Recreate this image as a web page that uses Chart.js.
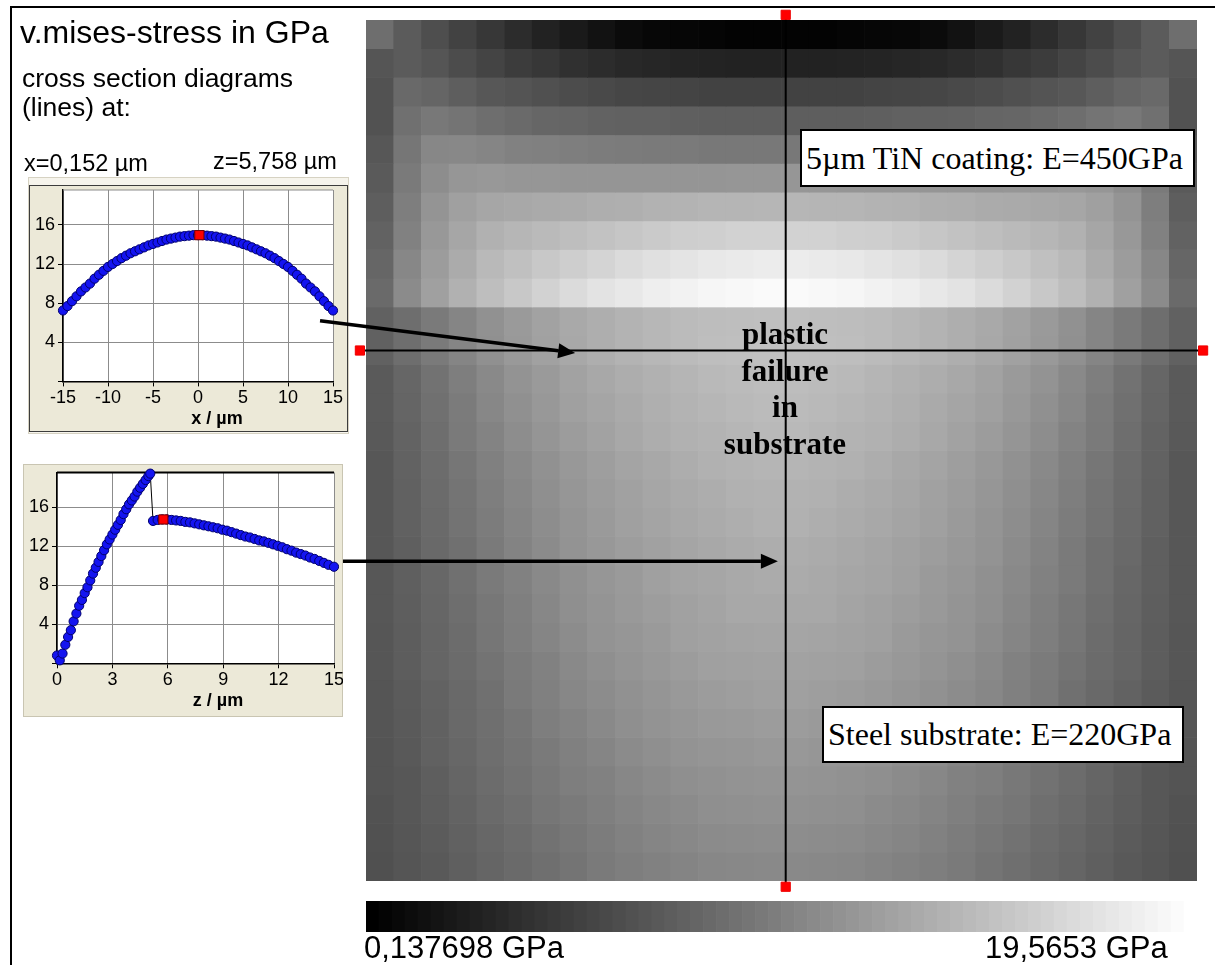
<!DOCTYPE html>
<html lang="en">
<head>
<meta charset="utf-8">
<title>v.mises-stress in GPa</title>
<script src="https://cdn.jsdelivr.net/npm/chart.js@4.4.1/dist/chart.umd.min.js"></script>
<style>
  html, body { margin: 0; padding: 0; background: #fff; }
  body { position: relative; width: 1215px; height: 965px; overflow: hidden;
         font-family: "Liberation Sans", Arial, sans-serif; color: #000; }
  .txt { position: absolute; white-space: nowrap; line-height: 1; z-index: 5; }
  .bold { font-weight: bold; }
  #pageFrame { position: absolute; left: 10px; top: 6px; right: 0; bottom: 0;
               border-left: 2px solid #000; border-top: 2px solid #000; }
  .panel { position: absolute; box-sizing: border-box; background: #ece9d8; z-index: 1; }
  canvas { position: absolute; }
  .note { position: absolute; box-sizing: border-box; background: #fff; border: 2px solid #000;
          font-family: "Liberation Serif", "Times New Roman", serif; font-size: 32px;
          white-space: nowrap; padding-left: 4px; z-index: 5; }
  #failure { position: absolute; left: 685px; top: 316px; width: 200px; text-align: center;
             font-family: "Liberation Serif", "Times New Roman", serif; font-weight: bold;
             font-size: 31px; line-height: 36.5px; z-index: 5; }
</style>
</head>
<body>
<div id="pageFrame"></div>

<div class="txt" style="left:20px;top:16px;font-size:32px">v.mises-stress in GPa</div>
<div class="txt" style="left:22px;top:65px;font-size:26.5px">cross section diagrams</div>
<div class="txt" style="left:22px;top:94px;font-size:26.5px">(lines) at:</div>
<div class="txt" style="left:24px;top:152px;font-size:23.5px">x=0,152 µm</div>
<div class="txt" style="left:213px;top:150px;font-size:23.5px">z=5,758 µm</div>

<!-- frames of the two cross section diagrams -->
<div class="panel" style="left:28px;top:177px;width:321px;height:257px;background:#f6f4ec;border:1px solid #d6d2c2"></div>
<div class="panel" style="left:29px;top:185px;width:319px;height:247px;border:1px solid #3c3c3c"></div>
<div class="panel" style="left:23px;top:464px;width:320px;height:253px;border:1px solid #c9c5b2"></div>

<canvas id="xSection" width="319" height="254" style="left:29px;top:177px;z-index:2"></canvas>
<canvas id="zSection" width="320" height="253" style="left:23px;top:464px;z-index:2"></canvas>
<div class="txt bold" style="left:167px;width:100px;text-align:center;top:409px;font-size:18px">x / µm</div>
<div class="txt bold" style="left:168px;width:100px;text-align:center;top:691px;font-size:18px">z / µm</div>

<canvas id="stressMap" width="1215" height="965" style="left:0;top:0;z-index:3"></canvas>
<canvas id="colorBar" width="831" height="31" style="left:366px;top:901px;z-index:2"></canvas>

<div class="note" style="left:800px;top:129px;width:395px;height:58px;line-height:54px">5µm TiN coating: E=450GPa</div>
<div class="note" style="left:822px;top:706px;width:362px;height:57px;line-height:53px">Steel substrate: E=220GPa</div>
<div id="failure">plastic<br>failure<br>in<br>substrate</div>

<div class="txt" style="left:364px;top:932px;font-size:31px">0,137698 GPa</div>
<div class="txt" style="left:985px;top:932px;font-size:31px">19,5653 GPa</div>

<script>
// colour scale range (GPa)
const vMin = 0.137698;
const vMax = 19.5653;

// positions of the two cross sections (µm)
const sectionX = 0.152;
const sectionZ = 5.758;

// stress along z at x = 0,152 µm
const zSectionZ = [0, 0.15, 0.3, 0.45, 0.6, 0.75, 0.9, 1.05, 1.2, 1.35, 1.5, 1.65, 1.8, 1.95, 2.1, 2.25,
  2.4, 2.55, 2.7, 2.85, 3.0, 3.15, 3.3, 3.45, 3.6, 3.75, 3.9, 4.05, 4.2, 4.35, 4.5, 4.65, 4.8, 4.95, 5.05,
  5.2, 5.45, 5.7, 5.95, 6.2, 6.45, 6.7, 6.95, 7.2, 7.45, 7.7, 7.95, 8.2, 8.45, 8.7, 8.95, 9.2, 9.45,
  9.7, 9.95, 10.2, 10.45, 10.7, 10.95, 11.2, 11.45, 11.7, 11.95, 12.2, 12.45, 12.7, 12.95, 13.2, 13.45,
  13.7, 13.95, 14.2, 14.45, 14.7, 15.0];
const zSectionStress = [0.8, 0.3, 1.0, 1.9, 2.7, 3.4, 4.3, 5.1, 5.9, 6.5, 7.2, 7.8, 8.5, 9.2, 9.8, 10.4,
  11.0, 11.6, 12.2, 12.7, 13.2, 13.7, 14.2, 14.7, 15.3, 15.8, 16.3, 16.7, 17.1, 17.6, 18.0, 18.4, 18.8, 19.2, 19.45,
  14.6, 14.7, 14.75, 14.75, 14.7, 14.65, 14.6, 14.5, 14.45, 14.35, 14.25, 14.15, 14.05, 13.95, 13.85, 13.7, 13.6, 13.45,
  13.3, 13.15, 13.0, 12.9, 12.75, 12.6, 12.5, 12.35, 12.2, 12.05, 11.9, 11.7, 11.55, 11.35, 11.2, 11.05,
  10.85, 10.7, 10.5, 10.3, 10.1, 9.9];

// stress along x at z = 5,758 µm
const xSectionX = [-15, -14.5, -14, -13.5, -13, -12.5, -12, -11.5, -11, -10.5, -10, -9.5, -9, -8.5, -8,
  -7.5, -7, -6.5, -6, -5.5, -5, -4.5, -4, -3.5, -3, -2.5, -2, -1.5, -1, -0.5, 0, 0.5, 1, 1.5, 2, 2.5,
  3, 3.5, 4, 4.5, 5, 5.5, 6, 6.5, 7, 7.5, 8, 8.5, 9, 9.5, 10, 10.5, 11, 11.5, 12, 12.5, 13, 13.5, 14, 14.5, 15];
const xSectionStress = [7.25, 7.7, 8.2, 8.7, 9.2, 9.6, 10.0, 10.5, 10.9, 11.3, 11.7, 12.0, 12.3, 12.6, 12.85,
  13.1, 13.3, 13.5, 13.7, 13.9, 14.05, 14.2, 14.35, 14.5, 14.6, 14.7, 14.8, 14.85, 14.9, 14.95, 14.95, 14.95,
  14.9, 14.85, 14.8, 14.7, 14.6, 14.5, 14.35, 14.2, 14.05, 13.9, 13.7, 13.5, 13.3, 13.1, 12.85, 12.6, 12.3,
  12.0, 11.7, 11.3, 10.9, 10.5, 10.0, 9.6, 9.2, 8.7, 8.2, 7.7, 7.25];

// stress field: cell centres along x, cell tops along z (µm), one row per depth
const cellX = [-14.5, -13.5, -12.5, -11.5, -10.5, -9.5, -8.5, -7.5, -6.5, -5.5, -4.5, -3.5, -2.5, -1.5, -0.5,
  0.5, 1.5, 2.5, 3.5, 4.5, 5.5, 6.5, 7.5, 8.5, 9.5, 10.5, 11.5, 12.5, 13.5, 14.5];
const cellZ = [0, 0.5, 1, 1.5, 2, 2.5, 3, 3.5, 4, 4.5, 5, 5.5, 6, 6.5, 7, 7.5, 8, 8.5, 9, 9.5,
  10, 10.5, 11, 11.5, 12, 12.5, 13, 13.5, 14, 14.5];
const cellDepth = 0.5;
const stressGrid = [
  [8.5,7.1,6.1,5.2,4.3,3.5,2.7,2.1,1.5,1.0,0.7,0.6,0.5,0.4,0.4, 0.4,0.4,0.5,0.6,0.7,1.0,1.5,2.1,2.7,3.5,4.3,5.2,6.1,7.1,8.5],
  [6.6,7.1,6.6,5.9,5.3,4.7,4.3,3.8,3.5,3.2,3.0,2.9,2.8,2.7,2.7, 2.7,2.7,2.8,2.9,3.0,3.2,3.5,3.8,4.3,4.7,5.3,5.9,6.6,7.1,6.6],
  [6.4,8.1,7.8,7.3,6.8,6.5,6.2,5.9,5.7,5.5,5.4,5.3,5.2,5.2,5.2, 5.2,5.2,5.2,5.3,5.4,5.5,5.7,5.9,6.2,6.5,6.8,7.3,7.8,8.1,6.4],
  [6.4,8.7,9.3,9.0,8.5,8.2,7.9,7.8,7.6,7.5,7.5,7.4,7.3,7.3,7.3, 7.3,7.3,7.3,7.4,7.5,7.5,7.6,7.8,7.9,8.2,8.5,9.0,9.3,8.7,6.4],
  [6.8,9.1,10.4,10.5,10.3,10.0,9.9,9.7,9.6,9.5,9.4,9.4,9.3,9.3,9.3, 9.3,9.3,9.3,9.4,9.4,9.5,9.6,9.7,9.9,10.0,10.3,10.5,10.4,9.1,6.8],
  [7.0,9.4,10.9,11.6,11.7,11.6,11.6,11.5,11.5,11.5,11.5,11.5,11.5,11.6,11.6, 11.6,11.6,11.5,11.5,11.5,11.5,11.5,11.5,11.6,11.6,11.7,11.6,10.9,9.4,7.0],
  [7.3,9.7,11.4,12.3,12.8,12.9,13.1,13.2,13.4,13.5,13.7,13.8,13.9,13.9,14.0, 14.0,13.9,13.9,13.8,13.7,13.5,13.4,13.2,13.1,12.9,12.8,12.3,11.4,9.7,7.3],
  [7.6,10.0,11.7,12.8,13.6,14.0,14.3,14.6,14.9,15.2,15.5,15.8,15.9,16.1,16.1, 16.1,16.1,15.9,15.8,15.5,15.2,14.9,14.6,14.3,14.0,13.6,12.8,11.7,10.0,7.6],
  [7.9,10.4,12.0,13.2,14.2,14.8,15.4,15.8,16.3,16.8,17.2,17.5,17.8,18.0,18.1, 18.1,18.0,17.8,17.5,17.2,16.8,16.3,15.8,15.4,14.8,14.2,13.2,12.0,10.4,7.9],
  [8.2,10.7,12.3,13.6,14.6,15.4,16.1,16.8,17.4,17.8,18.3,18.6,18.9,19.0,19.2, 19.2,19.0,18.9,18.6,18.3,17.8,17.4,16.8,16.1,15.4,14.6,13.6,12.3,10.7,8.2],
  [7.5,8.5,9.4,10.3,11.2,11.9,12.5,13.0,13.4,13.8,14.1,14.4,14.5,14.6,14.7, 14.7,14.6,14.5,14.4,14.1,13.8,13.4,13.0,12.5,11.9,11.2,10.3,9.4,8.5,7.5],
  [7.5,8.5,9.4,10.3,11.1,11.8,12.4,12.9,13.4,13.8,14.1,14.4,14.6,14.7,14.8, 14.8,14.7,14.6,14.4,14.1,13.8,13.4,12.9,12.4,11.8,11.1,10.3,9.4,8.5,7.5],
  [7.0,7.9,8.8,9.7,10.6,11.3,11.9,12.5,12.9,13.3,13.6,13.9,14.2,14.4,14.5, 14.5,14.4,14.2,13.9,13.6,13.3,12.9,12.5,11.9,11.3,10.6,9.7,8.8,7.9,7.0],
  [7.0,7.8,8.7,9.5,10.4,11.1,11.7,12.3,12.7,13.1,13.5,13.8,14.0,14.2,14.4, 14.4,14.2,14.0,13.8,13.5,13.1,12.7,12.3,11.7,11.1,10.4,9.5,8.7,7.8,7.0],
  [6.9,7.7,8.5,9.4,10.1,10.9,11.5,12.0,12.5,12.9,13.3,13.6,13.8,14.0,14.2, 14.2,14.0,13.8,13.6,13.3,12.9,12.5,12.0,11.5,10.9,10.1,9.4,8.5,7.7,6.9],
  [6.8,7.6,8.4,9.1,9.9,10.6,11.2,11.7,12.2,12.6,12.9,13.3,13.6,13.8,13.9, 13.9,13.8,13.6,13.3,12.9,12.6,12.2,11.7,11.2,10.6,9.9,9.1,8.4,7.6,6.8],
  [6.8,7.5,8.3,9.0,9.7,10.4,11.0,11.6,12.0,12.4,12.8,13.1,13.3,13.6,13.7, 13.7,13.6,13.3,13.1,12.8,12.4,12.0,11.6,11.0,10.4,9.7,9.0,8.3,7.5,6.8],
  [6.8,7.5,8.2,8.9,9.6,10.3,10.9,11.4,11.9,12.3,12.6,12.9,13.2,13.4,13.6, 13.6,13.4,13.2,12.9,12.6,12.3,11.9,11.4,10.9,10.3,9.6,8.9,8.2,7.5,6.8],
  [6.8,7.4,8.1,8.7,9.4,10.1,10.7,11.3,11.7,12.1,12.4,12.7,12.9,13.2,13.3, 13.3,13.2,12.9,12.7,12.4,12.1,11.7,11.3,10.7,10.1,9.4,8.7,8.1,7.4,6.8],
  [6.8,7.4,8.0,8.7,9.4,10.0,10.6,11.1,11.6,11.9,12.3,12.6,12.8,13.0,13.2, 13.2,13.0,12.8,12.6,12.3,11.9,11.6,11.1,10.6,10.0,9.4,8.7,8.0,7.4,6.8],
  [6.8,7.3,7.9,8.5,9.2,9.8,10.4,11.0,11.4,11.8,12.1,12.4,12.6,12.9,12.9, 12.9,12.9,12.6,12.4,12.1,11.8,11.4,11.0,10.4,9.8,9.2,8.5,7.9,7.3,6.8],
  [6.7,7.2,7.8,8.4,9.1,9.7,10.3,10.8,11.3,11.6,11.9,12.3,12.5,12.6,12.7, 12.7,12.6,12.5,12.3,11.9,11.6,11.3,10.8,10.3,9.7,9.1,8.4,7.8,7.2,6.7],
  [6.7,7.2,7.8,8.3,8.9,9.5,10.0,10.6,11.0,11.4,11.7,12.0,12.3,12.4,12.5, 12.5,12.4,12.3,12.0,11.7,11.4,11.0,10.6,10.0,9.5,8.9,8.3,7.8,7.2,6.7],
  [6.6,7.1,7.6,8.1,8.7,9.4,9.9,10.4,10.8,11.2,11.5,11.8,12.0,12.2,12.3, 12.3,12.2,12.0,11.8,11.5,11.2,10.8,10.4,9.9,9.4,8.7,8.1,7.6,7.1,6.6],
  [6.6,7.0,7.5,8.1,8.6,9.1,9.7,10.1,10.6,11.0,11.3,11.6,11.8,11.9,12.0, 12.0,11.9,11.8,11.6,11.3,11.0,10.6,10.1,9.7,9.1,8.6,8.1,7.5,7.0,6.6],
  [6.5,6.9,7.5,8.0,8.5,9.0,9.4,9.9,10.3,10.7,11.0,11.3,11.5,11.6,11.7, 11.7,11.6,11.5,11.3,11.0,10.7,10.3,9.9,9.4,9.0,8.5,8.0,7.5,6.9,6.5],
  [6.5,6.8,7.3,7.8,8.4,8.8,9.3,9.7,10.0,10.4,10.7,11.0,11.2,11.3,11.4, 11.4,11.3,11.2,11.0,10.7,10.4,10.0,9.7,9.3,8.8,8.4,7.8,7.3,6.8,6.5],
  [6.4,6.8,7.2,7.7,8.2,8.6,9.1,9.4,9.8,10.2,10.5,10.7,11.0,11.1,11.2, 11.2,11.1,11.0,10.7,10.5,10.2,9.8,9.4,9.1,8.6,8.2,7.7,7.2,6.8,6.4],
  [6.3,6.7,7.1,7.5,8.0,8.4,8.8,9.2,9.6,10.0,10.3,10.5,10.7,10.8,10.9, 10.9,10.8,10.7,10.5,10.3,10.0,9.6,9.2,8.8,8.4,8.0,7.5,7.1,6.7,6.3],
  [6.2,6.6,6.9,7.4,7.8,8.2,8.6,9.0,9.4,9.7,10.0,10.2,10.4,10.5,10.6, 10.6,10.5,10.4,10.2,10.0,9.7,9.4,9.0,8.6,8.2,7.8,7.4,6.9,6.6,6.2]
];

// extent of the drawn cut lines (µm) and the arrows that tie the diagrams to them
const cutSpanX = [-15.22, 15.22];
const cutSpanZ = [-0.09, 15.1];
const arrowLinks = [
  { from: [-16.66, 5.24], to: [-7.45, 5.80] },
  { from: [-15.83, 9.43], to: [-0.13, 9.43] }
];
const colorSteps = 64;

Chart.defaults.font.family = '"Liberation Sans", Arial, sans-serif';
Chart.defaults.color = '#000';
Chart.defaults.animation = false;
Chart.defaults.events = [];
Chart.defaults.plugins.legend.display = false;
Chart.defaults.plugins.tooltip.enabled = false;

function grayFor(v) {
  const t = Math.min(1, Math.max(0, (v - vMin) / (vMax - vMin)));
  const g = Math.round(255 * t);
  return `rgb(${g},${g},${g})`;
}

// fixed axis boxes so the plot areas land where the frames expect them
function fixedBox(size) {
  return (scale) => {
    if (scale.isHorizontal()) scale.height = size;
    else scale.width = size;
    scale.paddingLeft = scale.paddingRight = scale.paddingTop = scale.paddingBottom = 0;
  };
}

const plotFace = {
  id: 'plotFace',
  beforeDraw(chart) {
    const { ctx, chartArea: a } = chart;
    ctx.save();
    ctx.fillStyle = '#fff';
    ctx.fillRect(a.left, a.top, a.width, a.height);
    ctx.restore();
  },
  beforeDatasetsDraw(chart, args, opts) {
    const { ctx, chartArea: a } = chart;
    ctx.save();
    ctx.strokeStyle = opts.topColor;
    ctx.lineWidth = opts.topWidth;
    ctx.beginPath();
    ctx.moveTo(a.left, a.top);
    ctx.lineTo(a.right, a.top);
    ctx.stroke();
    ctx.restore();
  }
};

function sectionChart(id, xs, ys, mark, xRange, xStep, box, top) {
  return new Chart(document.getElementById(id), {
    type: 'line',
    data: {
      datasets: [
        {
          data: [{ x: mark[0], y: mark[1] }],
          showLine: false,
          pointStyle: 'rect',
          pointRadius: 6.5,
          pointBackgroundColor: '#ff0000',
          pointBorderColor: '#7a0000',
          pointBorderWidth: 1,
          clip: false,
          order: 0
        },
        {
          data: xs.map((x, i) => ({ x: x, y: ys[i] })),
          borderColor: '#000',
          borderWidth: 1,
          pointRadius: 4.6,
          pointBackgroundColor: '#1414f0',
          pointBorderColor: '#00006e',
          pointBorderWidth: 1,
          clip: false,
          order: 1
        }
      ]
    },
    options: {
      responsive: false,
      devicePixelRatio: 1,
      layout: { padding: box.padding },
      scales: {
        x: {
          type: 'linear',
          min: xRange[0],
          max: xRange[1],
          ticks: { stepSize: xStep, includeBounds: false, autoSkip: false, maxRotation: 0,
                   padding: 1, font: { size: 18 } },
          grid: { color: '#8c8c8c', tickColor: '#000', tickLength: 5 },
          border: { color: '#000', width: 1.5 },
          afterFit: fixedBox(box.xAxis)
        },
        y: {
          min: 0,
          max: vMax,
          ticks: { stepSize: 4, includeBounds: false, padding: 3, font: { size: 18 },
                   callback: (v) => (v === 0 ? '' : v) },
          grid: { color: '#8c8c8c', tickColor: '#000', tickLength: 5 },
          border: { color: '#000', width: 1.5 },
          afterFit: fixedBox(box.yAxis)
        }
      },
      plugins: { plotFace: top }
    },
    plugins: [plotFace]
  });
}

sectionChart('xSection', xSectionX, xSectionStress, [sectionX, 14.95], [-15, 15], 5,
  { padding: { top: 13, right: 15, left: 0, bottom: 0 }, xAxis: 49.6, yAxis: 34 },
  { topColor: '#8c8c8c', topWidth: 1 });

sectionChart('zSection', zSectionZ, zSectionStress, [sectionZ, 14.75], [0, 15], 3,
  { padding: { top: 8.5, right: 9, left: 0, bottom: 0 }, xAxis: 53.7, yAxis: 34 },
  { topColor: '#000', topWidth: 2 });

// arrows from the diagrams to the cut lines, placed in map coordinates
const arrowPlugin = {
  id: 'arrows',
  afterDraw(chart) {
    const { ctx, scales: { x, y } } = chart;
    arrowLinks.forEach((a) => {
      const x0 = x.getPixelForValue(a.from[0]), y0 = y.getPixelForValue(a.from[1]);
      const x1 = x.getPixelForValue(a.to[0]), y1 = y.getPixelForValue(a.to[1]);
      const ang = Math.atan2(y1 - y0, x1 - x0);
      const head = 17, half = 7.5;
      const bx = x1 - head * Math.cos(ang), by = y1 - head * Math.sin(ang);
      ctx.save();
      ctx.strokeStyle = '#000';
      ctx.fillStyle = '#000';
      ctx.lineWidth = 3.5;
      ctx.beginPath();
      ctx.moveTo(x0, y0);
      ctx.lineTo(bx, by);
      ctx.stroke();
      ctx.beginPath();
      ctx.moveTo(x1, y1);
      ctx.lineTo(bx + half * Math.sin(ang), by - half * Math.cos(ang));
      ctx.lineTo(bx - half * Math.sin(ang), by + half * Math.cos(ang));
      ctx.closePath();
      ctx.fill();
      ctx.restore();
    });
  }
};

const cellDatasets = cellZ.map((zTop, r) => ({
  type: 'bar',
  data: cellX.map((x) => ({ x: x, y: [zTop, zTop + cellDepth] })),
  backgroundColor: stressGrid[r].map(grayFor),
  borderWidth: 0,
  grouped: false,
  barPercentage: 1,
  categoryPercentage: 1,
  order: 3
}));

function cutLine(points) {
  return {
    type: 'line',
    data: points,
    borderColor: '#000',
    borderWidth: 2,
    pointStyle: 'rect',
    pointRadius: 6.5,
    pointBackgroundColor: '#ff0000',
    pointBorderColor: '#ee0000',
    pointBorderWidth: 1,
    clip: false,
    order: 1
  };
}

new Chart(document.getElementById('stressMap'), {
  type: 'bar',
  data: {
    datasets: [
      ...cellDatasets,
      cutLine([{ x: cutSpanX[0], y: sectionZ }, { x: cutSpanX[1], y: sectionZ }]),
      cutLine([{ x: sectionX, y: cutSpanZ[0] }, { x: sectionX, y: cutSpanZ[1] }])
    ]
  },
  options: {
    responsive: false,
    devicePixelRatio: 1,
    layout: { padding: { left: 366, right: 18, top: 20, bottom: 84 } },
    scales: {
      x: { type: 'linear', min: -15, max: 15, offset: false, display: false, ticks: { stepSize: 5 } },
      y: { type: 'linear', min: 0, max: 15, reverse: true, display: false, ticks: { stepSize: 5 } }
    }
  },
  plugins: [arrowPlugin]
});

// colour bar: one block per colour step across the stress range
const stepWidth = (vMax - vMin) / colorSteps;
const barCentres = [];
const barColours = [];
for (let i = 0; i < colorSteps; i++) {
  barCentres.push(vMin + (i + 0.5) * stepWidth);
  barColours.push(grayFor(vMin + i * (vMax - vMin) / (colorSteps - 1)));
}

new Chart(document.getElementById('colorBar'), {
  type: 'bar',
  data: {
    datasets: [{
      data: barCentres.map((c) => ({ x: c, y: 1 })),
      backgroundColor: barColours,
      borderWidth: 0,
      barPercentage: 1,
      categoryPercentage: 1
    }]
  },
  options: {
    responsive: false,
    devicePixelRatio: 1,
    scales: {
      x: { type: 'linear', min: vMin, max: vMax, offset: false, display: false },
      y: { min: 0, max: 1, display: false }
    }
  }
});
</script>
</body>
</html>
